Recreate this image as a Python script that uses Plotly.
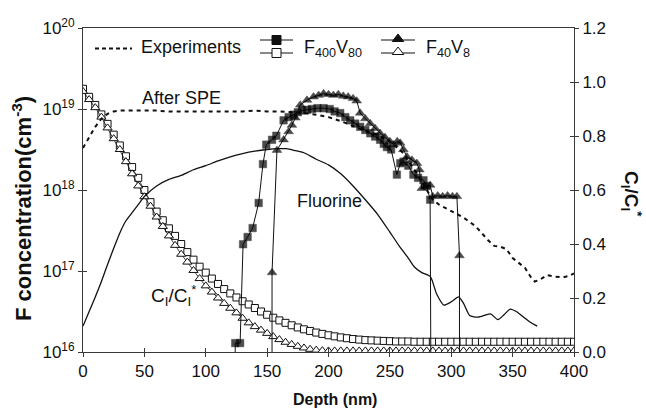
import plotly.graph_objects as go

# ---------------- data ----------------
# Experiments (After SPE), dashed, left log axis (log10 of concentration)
exp_depth = [0, 5, 10, 15, 20, 25, 30, 40, 50, 60, 70, 80, 90, 100, 110, 120, 130, 140, 150, 160,
             170, 180, 190, 200, 210, 220, 230, 240, 250, 260, 270, 280, 285, 290, 300, 310, 320,
             330, 335, 340, 345, 350, 355, 360, 365, 368, 372, 378, 385, 391, 396, 400]
exp_log10 = [18.52, 18.65, 18.78, 18.88, 18.94, 18.97, 18.98, 18.98, 18.98, 18.98, 18.97, 18.97,
             18.97, 18.97, 18.97, 18.97, 18.97, 18.98, 18.97, 18.97, 18.96, 18.95, 18.93, 18.90,
             18.85, 18.79, 18.73, 18.68, 18.60, 18.47, 18.25, 18.00, 17.88, 17.82, 17.74, 17.66,
             17.55, 17.38, 17.31, 17.30, 17.27, 17.16, 17.10, 17.04, 16.92, 16.87, 16.89, 16.95,
             16.93, 16.92, 16.94, 16.97]

# Fluorine simulated profile, solid, left log axis
flu_depth = [0, 5, 10, 15, 20, 25, 30, 35, 40, 45, 50, 60, 70, 80, 90, 100, 110, 120, 130, 140,
             150, 160, 166, 172, 180, 190, 200, 210, 220, 230, 240, 250, 258, 265, 270, 276, 283,
             288, 294, 300, 306, 310, 315, 322, 332, 338, 343, 348, 353, 359, 364, 370]
flu_log10 = [16.32, 16.50, 16.68, 16.87, 17.08, 17.28, 17.47, 17.62, 17.72, 17.82, 17.92, 18.05,
             18.13, 18.18, 18.25, 18.30, 18.36, 18.41, 18.45, 18.48, 18.50, 18.51, 18.51, 18.49,
             18.46, 18.38, 18.31, 18.20, 18.05, 17.88, 17.70, 17.48, 17.30, 17.16, 17.05, 16.98,
             16.93, 16.72, 16.58, 16.62, 16.68, 16.60, 16.45, 16.43, 16.47, 16.40, 16.46, 16.53,
             16.50, 16.43, 16.37, 16.32]

# F400V80 filled squares (left log axis)
sq_depth = [124, 124, 128, 130.4, 134.1, 138.2, 143.1, 146.6, 149.3, 154, 157.5, 163.4, 167.5,
            171.6, 175, 178.4, 182.5, 186.5, 191, 196, 201, 205, 209.6, 213.7, 217.7, 221.8,
            225.8, 230, 234, 238, 242, 245, 247.6, 251, 255.7, 258.5, 261.1, 265, 269.2, 273,
            277.4, 280, 282.8, 283.4]
sq_log10 = [15.8, 16.11, 16.11, 17.33, 17.42, 17.53, 17.84, 18.32, 18.56, 18.62, 18.67, 18.86,
            18.90, 18.93, 18.96, 18.98, 18.99, 19.00, 19.01, 19.01, 19.00, 18.97, 18.95, 18.90,
            18.86, 18.82, 18.78, 18.74, 18.70, 18.66, 18.62, 18.57, 18.53, 18.50, 18.19, 18.33,
            18.35, 18.30, 18.19, 18.15, 18.12, 18.05, 17.88, 15.8]

# F40V8 filled triangles (left log axis)
tr_depth = [154, 154, 158, 163.4, 167.5, 170.2, 173, 177, 182.5, 187.8, 192, 196, 200, 204, 208,
            212, 216, 220, 223, 225.8, 230, 234, 238, 242, 246, 250, 253, 256, 258.4, 261, 263.9,
            268, 272, 274, 276, 279, 282.8, 285, 289, 293, 297, 301, 304.6, 306.7, 306.7]
tr_log10 = [15.8, 16.98, 18.49, 18.62, 18.72, 18.80, 18.89, 19.05, 19.11, 19.15, 19.17, 19.19,
            19.18, 19.17, 19.18, 19.16, 19.15, 19.13, 19.10, 18.95, 18.88, 18.82, 18.76, 18.70,
            18.65, 18.60, 18.56, 18.60, 18.58, 18.50, 18.41, 18.37, 18.33, 18.25, 18.02, 18.04,
            18.06, 17.92, 17.93, 17.92, 17.93, 17.92, 17.92, 17.19, 15.8]

# CI/CI* (right axis), depth grid every 5 nm
ci_depth = list(range(0, 405, 5))
ci_F400V80 = [0.975, 0.945, 0.915, 0.880, 0.845, 0.805, 0.765, 0.725, 0.685, 0.645, 0.600,
              0.555, 0.520, 0.488, 0.458, 0.430, 0.400, 0.370, 0.342, 0.316, 0.294,
              0.272, 0.252, 0.233, 0.217, 0.202, 0.188, 0.176, 0.163, 0.150, 0.138,
              0.127, 0.117, 0.108, 0.099, 0.091, 0.084, 0.078, 0.072, 0.067, 0.062,
              0.058, 0.054, 0.051, 0.048, 0.046, 0.044, 0.043, 0.042, 0.041, 0.040,
              0.039, 0.039, 0.039, 0.038, 0.038, 0.038, 0.038, 0.038, 0.038, 0.038,
              0.038, 0.038, 0.038, 0.038, 0.038, 0.038, 0.038, 0.038, 0.038, 0.038,
              0.038, 0.038, 0.038, 0.038, 0.038, 0.038, 0.038, 0.038, 0.038, 0.038]
ci_F40V8 = [0.965, 0.935, 0.905, 0.870, 0.830, 0.790, 0.750, 0.705, 0.660, 0.615, 0.575,
            0.540, 0.500, 0.465, 0.430, 0.395, 0.362, 0.333, 0.302, 0.272, 0.245,
            0.222, 0.200, 0.180, 0.162, 0.145, 0.125, 0.108, 0.094, 0.081, 0.069,
            0.057, 0.046, 0.036, 0.028, 0.021, 0.015, 0.010, 0.007, 0.005, 0.004,
            0.004, 0.004, 0.004, 0.004, 0.004, 0.004, 0.004, 0.004, 0.004, 0.004,
            0.004, 0.004, 0.004, 0.004, 0.004, 0.004, 0.004, 0.004, 0.004, 0.004,
            0.004, 0.004, 0.004, 0.004, 0.004, 0.004, 0.004, 0.004, 0.004, 0.004,
            0.004, 0.004, 0.004, 0.004, 0.004, 0.004, 0.004, 0.004, 0.004, 0.004]

x_ticks = [0, 50, 100, 150, 200, 250, 300, 350, 400]
left_tick_exps = [16, 17, 18, 19, 20]
right_ticks = [0.0, 0.2, 0.4, 0.6, 0.8, 1.0, 1.2]

# ---------------- figure ----------------
W, H = 646, 410
ML, MR, MT, MB = 83, 72, 28, 58
PW, PH = W - ML - MR, H - MT - MB
FONT = "Arial, Liberation Sans, sans-serif"
INK = "#111111"
AX = "#3a3a3a"


def to_conc(vals):
    return [10.0 ** v for v in vals]


def px(xp):
    return (xp - ML) / PW


def py(yp):
    return 1 - (yp - MT) / PH


fig = go.Figure()

# open markers on right (base) axis
fig.add_trace(go.Scatter(x=ci_depth, y=ci_F400V80, mode="lines+markers", xaxis="x", yaxis="y",
                         line=dict(color=INK, width=0.8),
                         marker=dict(symbol="square", size=7, color="white",
                                     line=dict(color=INK, width=1)), showlegend=False))
fig.add_trace(go.Scatter(x=ci_depth, y=ci_F40V8, mode="lines+markers", xaxis="x", yaxis="y",
                         line=dict(color=INK, width=0.8),
                         marker=dict(symbol="triangle-up", size=8, color="white",
                                     line=dict(color=INK, width=1)), showlegend=False))

# left log axis traces
fig.add_trace(go.Scatter(x=flu_depth, y=to_conc(flu_log10), mode="lines", xaxis="x", yaxis="y2",
                         line=dict(color=INK, width=1.3, shape="spline", smoothing=0.6),
                         showlegend=False))
fig.add_trace(go.Scatter(x=exp_depth, y=to_conc(exp_log10), mode="lines", xaxis="x", yaxis="y2",
                         line=dict(color=INK, width=2, dash="4px,4px"), showlegend=False))

sq_sizes = [0] + [7.5] * (len(sq_depth) - 2) + [0]
fig.add_trace(go.Scatter(x=sq_depth, y=to_conc(sq_log10), mode="lines+markers", xaxis="x",
                         yaxis="y2", line=dict(color=INK, width=1),
                         marker=dict(symbol="square", size=sq_sizes, color="black",
                                     line=dict(color="black", width=0.5)),
                         showlegend=False))
tr_sizes = [0] + [8.5] * (len(tr_depth) - 2) + [0]
fig.add_trace(go.Scatter(x=tr_depth, y=to_conc(tr_log10), mode="lines+markers", xaxis="x",
                         yaxis="y2", line=dict(color=INK, width=1),
                         marker=dict(symbol="triangle-up", size=tr_sizes, color="black",
                                     line=dict(color="black", width=0.5)),
                         showlegend=False))

# invisible anchors so the inner-tick overlay axes get drawn
fig.add_trace(go.Scatter(x=[0], y=[0.5], mode="markers", xaxis="x3", yaxis="y4",
                         marker=dict(opacity=0), showlegend=False, hoverinfo="skip"))
fig.add_trace(go.Scatter(x=[0], y=[0.5], mode="markers", xaxis="x3", yaxis="y5",
                         marker=dict(opacity=0), showlegend=False, hoverinfo="skip"))

# ---------- custom legend on an overlay paper-like axis ----------
def leg_line(x0, x1, y, dash="solid", width=1.2):
    fig.add_trace(go.Scatter(x=[px(x0), px(x1)], y=[py(y), py(y)], mode="lines",
                             xaxis="x2", yaxis="y3", line=dict(color=INK, width=width, dash=dash),
                             showlegend=False, hoverinfo="skip"))


def leg_marker(x, y, symbol, fill, size=9):
    fig.add_trace(go.Scatter(x=[px(x)], y=[py(y)], mode="markers", xaxis="x2", yaxis="y3",
                             marker=dict(symbol=symbol, size=size, color=fill,
                                         line=dict(color=INK, width=1)),
                             showlegend=False, hoverinfo="skip"))


leg_line(95, 132, 48.5, dash="4px,3px", width=2)
leg_line(260, 293, 40)
leg_line(260, 293, 53)
leg_marker(276.5, 40, "square", INK)
leg_marker(276.5, 53, "square", "white")
leg_line(381, 415, 40)
leg_line(381, 415, 53)
leg_marker(398, 39, "triangle-up", INK, size=10)
leg_marker(398, 52, "triangle-up", "white", size=10)

annotations = []


def ann_px(text, xp, yp, size=18, xanchor="left", bold=False, angle=0):
    t = f"<b>{text}</b>" if bold else text
    annotations.append(dict(text=t, x=px(xp), y=py(yp), xref="paper", yref="paper",
                            xanchor=xanchor, yanchor="middle", showarrow=False,
                            textangle=angle, font=dict(family=FONT, size=size, color=INK)))


ann_px("Experiments", 139, 47, size=18)
ann_px("F<sub>400</sub>V<sub>80</sub>", 302, 48, size=18)
ann_px("F<sub>40</sub>V<sub>8</sub>", 424, 48, size=18)

# in-plot labels (data coordinates)
annotations.append(dict(text="After SPE", x=80, y=19.14, xref="x", yref="y2", showarrow=False,
                        font=dict(family=FONT, size=18, color=INK)))
annotations.append(dict(text="Fluorine", x=201, y=17.87, xref="x", yref="y2", showarrow=False,
                        font=dict(family=FONT, size=18, color=INK)))
annotations.append(dict(text="C<sub>I</sub>/C<sub>I</sub><sup>*</sup>", x=73.5, y=16.7,
                        xref="x", yref="y2", showarrow=False,
                        font=dict(family=FONT, size=19, color=INK)))

# axis titles
ann_px("F concentration(cm<sup>-3</sup>)", 22, 209, size=22, xanchor="center", bold=True, angle=-90)
ann_px("C<sub>I</sub>/C<sub>I</sub><sup>*</sup>", 632, 194, size=19, xanchor="center", bold=True,
       angle=90)
ann_px("Depth (nm)", 335, 399, size=16, xanchor="center", bold=True)

tickfont = dict(family=FONT, size=17, color=INK)

fig.update_layout(
    width=W, height=H,
    margin=dict(l=ML, r=MR, t=MT, b=MB, pad=0),
    paper_bgcolor="white", plot_bgcolor="white",
    showlegend=False,
    annotations=annotations,
    xaxis=dict(range=[0, 400], tickvals=x_ticks, ticktext=[str(v) for v in x_ticks],
               showline=True, linecolor=AX, linewidth=1, mirror=True, ticks="outside",
               ticklen=4, tickcolor=AX, showgrid=False, zeroline=False, tickfont=tickfont,
               anchor="y"),
    yaxis=dict(range=[0, 1.2], side="right", tickvals=right_ticks,
               ticktext=[f"{v:.1f}" for v in right_ticks], showline=True, linecolor=AX,
               linewidth=1, ticks="outside", ticklen=4, tickcolor=AX, showgrid=False,
               zeroline=False, tickfont=tickfont, anchor="x"),
    yaxis2=dict(type="log", range=[16, 20], side="left", overlaying="y", anchor="x",
                tickvals=[10.0 ** e for e in left_tick_exps],
                ticktext=[f"10<sup>{e}</sup>" for e in left_tick_exps],
                showline=True, linecolor=AX, linewidth=1, ticks="outside", ticklen=4,
                tickcolor=AX, showgrid=False, zeroline=False, tickfont=tickfont),
    xaxis2=dict(range=[0, 1], overlaying="x", anchor="y3", visible=False, fixedrange=True),
    yaxis3=dict(range=[0, 1], overlaying="y", anchor="x2", visible=False, fixedrange=True),
    # inner halves of the crossing ticks
    xaxis3=dict(range=[0, 400], overlaying="x", anchor="y4", side="bottom", tickvals=x_ticks,
                ticks="inside", ticklen=4, tickcolor=AX, showticklabels=False, showline=False,
                showgrid=False, zeroline=False),
    yaxis4=dict(range=[16, 20], overlaying="y", anchor="x3", side="left",
                tickvals=left_tick_exps, ticks="inside", ticklen=4, tickcolor=AX,
                showticklabels=False, showline=False, showgrid=False, zeroline=False),
    yaxis5=dict(range=[0, 1.2], overlaying="y", anchor="x3", side="right",
                tickvals=right_ticks, ticks="inside", ticklen=4, tickcolor=AX,
                showticklabels=False, showline=False, showgrid=False, zeroline=False),
)

fig.write_html("out.html")
